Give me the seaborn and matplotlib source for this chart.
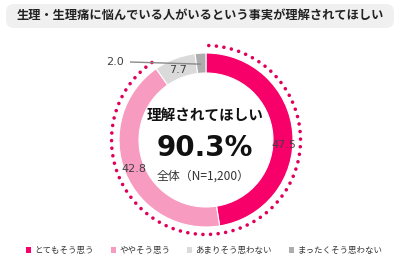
import numpy as np
import matplotlib
matplotlib.use("Agg")
import matplotlib.pyplot as plt
from matplotlib.patches import FancyBboxPatch, Arc
import seaborn as sns

title = "生理・生理痛に悩んでいる人がいるという事実が理解されてほしい"
categories = ["とてもそう思う", "ややそう思う", "あまりそう思わない", "まったくそう思わない"]
values = [47.5, 42.8, 7.7, 2.0]
center_head = "理解されてほしい"
center_value = "90.3%"
center_note = "全体（N=1,200）"

sns.set_theme(style="white")
plt.rcParams["font.family"] = ["Noto Sans CJK JP", "DejaVu Sans"]

colors = ["#F7006A", "#F79BC0", "#DADADA", "#ADADAD"]

W, H = 400, 259
fig = plt.figure(figsize=(W / 100, H / 100), dpi=100)
fig.patch.set_facecolor("white")
ax = fig.add_axes([0, 0, 1, 1])
ax.set_xlim(0, W)
ax.set_ylim(0, H)
ax.set_aspect("equal")
ax.axis("off")

# Title box
box = FancyBboxPatch((6, H - 28), 388, 24, boxstyle="round,pad=0,rounding_size=8",
                     facecolor="#F0F0F0", edgecolor="none", zorder=1)
ax.add_patch(box)
ax.text(200, H - 15.5, title, ha="center", va="center", fontsize=8.8,
        fontweight="bold", color="#222222", zorder=2)

cx, cy, R, width = 206, 119, 87, 20
wedges, _ = ax.pie(values, colors=colors, startangle=90, counterclock=False,
                   center=(cx, cy), radius=R, frame=True,
                   wedgeprops=dict(width=width, edgecolor="white", linewidth=0.8))
ax.set_xlim(0, W)
ax.set_ylim(0, H)
ax.axis("off")

# Dotted arc over the "agree" portion
agree = values[0] + values[1]
arc = Arc((cx, cy), 2 * 94.5, 2 * 94.5, theta1=90 - 360 * agree / 100, theta2=90,
          color="#E0005A", linewidth=2.6, linestyle=(0, (0.01, 2.1)), capstyle="round")
ax.add_patch(arc)

# Value labels
cum = np.cumsum([0] + values)
rmid = R - width / 2 + 1
label_shift = [-8, 0, 0, 0]
for i, v in enumerate(values):
    mid = np.deg2rad(90 - 360 * (cum[i] + v / 2) / 100 + label_shift[i])
    x, y = cx + rmid * np.cos(mid), cy + rmid * np.sin(mid)
    if i < 3:
        ax.text(x, y - (3 if i == 2 else 0), f"{v:.1f}", ha="center", va="center",
                fontsize=8, color="#404040", family="DejaVu Sans", zorder=5)
    else:
        tx, ty = 115, 197
        ax.text(tx, ty, f"{v:.1f}", ha="center", va="center", fontsize=8,
                color="#404040", family="DejaVu Sans", zorder=5)
        ax.plot([tx + 15, x], [ty, y - 2], color="#8A8A8A", lw=1, zorder=6,
                solid_capstyle="butt")

# Center texts
ax.text(cx - 1, cy + 25, center_head, ha="center", va="center", fontsize=10.5,
        fontweight="bold", color="#111111")
ax.text(cx - 1, cy - 8, center_value, ha="center", va="center", fontsize=20,
        fontweight="bold", color="#111111", family="DejaVu Sans")
ax.text(cx - 3, cy - 36, center_note, ha="center", va="center", fontsize=8.6,
        color="#333333")

leg = ax.legend(wedges, categories, loc="center", bbox_to_anchor=(0.51, 0.033),
                bbox_transform=fig.transFigure, ncol=4, frameon=False, fontsize=6.1,
                handlelength=0.6, handleheight=0.6, handletextpad=0.4,
                columnspacing=2.0, borderpad=0)
for t in leg.get_texts():
    t.set_color("#333333")
for h in leg.legend_handles:
    h.set_edgecolor("none")

fig.savefig("out.png", dpi=100, facecolor="white")
